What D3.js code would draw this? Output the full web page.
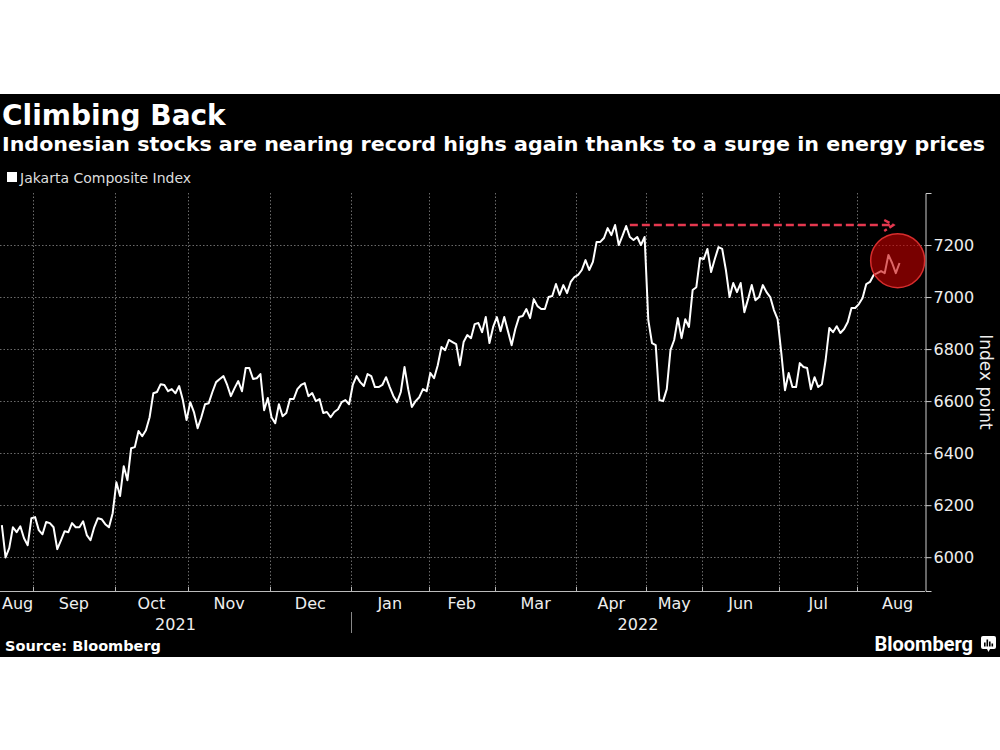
<!DOCTYPE html>
<html>
<head>
<meta charset="utf-8">
<script src="https://cdn.jsdelivr.net/npm/d3@7"></script>
<style>
  body { margin: 0; background: #fff; }
  svg { display: block; }
  text { font-family: "DejaVu Sans", Verdana, sans-serif; fill: #fff; }
</style>
</head>
<body>
<svg id="chart" width="1000" height="750"></svg>
<script>
// Jakarta Composite Index, one close per trading day (Aug 19 2021 - Aug 16 2022)
var jciValues = [
  // Aug 2021
  6123, 5999, 6035, 6115, 6096, 6119, 6073, 6046, 6150,
  // Sep
  6154, 6104, 6088, 6135, 6131, 6115, 6031, 6065, 6100, 6096, 6131, 6115, 6115, 6138, 6085, 6065, 6115, 6150, 6146, 6127, 6115, 6169,
  // Oct
  6288, 6235, 6350, 6296, 6419, 6423, 6485, 6465, 6488, 6538, 6630, 6635, 6665, 6662, 6638, 6646, 6630, 6658, 6604, 6527,
  // Nov
  6596, 6558, 6496, 6538, 6588, 6592, 6635, 6673, 6685, 6696, 6662, 6619, 6650, 6677, 6638, 6727, 6727, 6685, 6688, 6704, 6565, 6612,
  // Dec
  6538, 6515, 6588, 6542, 6554, 6608, 6608, 6646, 6662, 6669, 6619, 6631, 6600, 6608, 6554, 6558, 6538, 6558, 6569, 6596, 6604, 6588,
  // Jan 2022
  6662, 6696, 6673, 6658, 6704, 6696, 6654, 6654, 6662, 6692, 6654, 6619, 6596, 6635, 6731, 6646, 6577, 6600, 6615, 6646, 6638,
  // Feb
  6708, 6688, 6738, 6808, 6796, 6835, 6827, 6819, 6738, 6827, 6854, 6842, 6896, 6900, 6865, 6923, 6823, 6885,
  // Mar
  6923, 6869, 6923, 6869, 6815, 6877, 6923, 6927, 6954, 6919, 6992, 6965, 6954, 6954, 7000, 7004, 7050, 7008, 7046, 7015, 7058, 7077,
  // Apr
  7085, 7104, 7142, 7104, 7135, 7212, 7212, 7227, 7265, 7238, 7277, 7200, 7235, 7273, 7231, 7219, 7231, 7200, 7231,
  // May
  6911, 6823, 6815, 6604, 6600, 6646, 6796, 6835, 6919, 6842, 6915, 6885, 7027, 7038, 7150,
  // Jun
  7146, 7185, 7096, 7146, 7192, 7185, 7104, 7000, 7054, 7019, 7054, 6942, 6992, 7046, 6988, 7000, 7046, 7019, 7000, 6950, 6915,
  // Jul
  6785, 6642, 6708, 6654, 6654, 6746, 6731, 6727, 6646, 6692, 6654, 6665, 6758, 6881, 6865, 6888, 6862, 6877, 6904, 6958, 6958,
  // Aug
  6973, 6996, 7050, 7058, 7085, 7092, 7100, 7092, 7162, 7131, 7092, 7131
];

// months on the axis: first trading-day index and trading days in the month
var monthLabels = ['Aug', 'Sep', 'Oct', 'Nov', 'Dec', 'Jan', 'Feb', 'Mar', 'Apr', 'May', 'Jun', 'Jul', 'Aug'];
var monthStarts = [-11, 9, 31, 51, 73, 95, 116, 134, 156, 175, 190, 211, 232];
var monthDays   = [20, 22, 20, 22, 22, 21, 18, 22, 19, 15, 21, 21, 22];
var yearLabels = ['2021', '2022'];
var yearBreak = 95;

var yMajorTicks = [6000, 6200, 6400, 6600, 6800, 7000, 7200];
var yMinorTicks = [5900, 6100, 6300, 6500, 6700, 6900, 7100, 7300];

// annotations
var recordFrom = 170, recordTo = 241.3;
var circleIdx = 242.5, circleValue = 7140;

var svg = d3.select('#chart');
var W = 1000;

// black panel
svg.append('rect')
  .attr('x', 0).attr('y', 94).attr('width', W).attr('height', 563)
  .attr('fill', '#000');

// titles
svg.append('text').attr('x', 2).attr('y', 125)
  .style('font-size', '28px').style('font-weight', 'bold')
  .text('Climbing Back');
svg.append('text').attr('x', 2).attr('y', 151)
  .attr('textLength', 983).attr('lengthAdjust', 'spacingAndGlyphs')
  .style('font-size', '20px').style('font-weight', 'bold')
  .text('Indonesian stocks are nearing record highs again thanks to a surge in energy prices');

// legend
svg.append('rect').attr('x', 7).attr('y', 172).attr('width', 10).attr('height', 10).attr('fill', '#fff');
svg.append('text').attr('x', 20).attr('y', 183)
  .style('font-size', '14px').style('fill', '#ddd')
  .text('Jakarta Composite Index');

var plot = { left: 0, right: 925, top: 193, bottom: 591 };

var x = d3.scaleLinear().domain([-0.5, 249.9]).range([plot.left, plot.right]);
var y = d3.scaleLinear().domain([5870, 7400]).range([plot.bottom, plot.top]);

var grid = svg.append('g')
  .attr('stroke', '#6a6a6a').attr('stroke-width', 1).attr('stroke-dasharray', '1.5,2');

grid.selectAll('line.h')
  .data(yMajorTicks)
  .enter().append('line')
  .attr('class', 'h')
  .attr('x1', plot.left).attr('x2', plot.right)
  .attr('y1', function(d) { return Math.round(y(d)) + 0.5; })
  .attr('y2', function(d) { return Math.round(y(d)) + 0.5; });

var boundaries = monthStarts.filter(function(s) { return s - 0.5 > x.domain()[0]; });

grid.selectAll('line.v')
  .data(boundaries)
  .enter().append('line')
  .attr('class', 'v')
  .attr('y1', plot.top).attr('y2', plot.bottom)
  .attr('x1', function(d) { return Math.round(x(d - 0.5)) + 0.5; })
  .attr('x2', function(d) { return Math.round(x(d - 0.5)) + 0.5; });

// x axis
var xAxis = svg.append('g').attr('stroke', '#bbb').attr('stroke-width', 1);
xAxis.append('line')
  .attr('x1', plot.left).attr('x2', plot.right)
  .attr('y1', plot.bottom + 0.5).attr('y2', plot.bottom + 0.5);
xAxis.selectAll('line.tick')
  .data(boundaries)
  .enter().append('line')
  .attr('class', 'tick')
  .attr('y1', plot.bottom - 4).attr('y2', plot.bottom)
  .attr('x1', function(d) { return Math.round(x(d - 0.5)) + 0.5; })
  .attr('x2', function(d) { return Math.round(x(d - 0.5)) + 0.5; });

var monthText = svg.append('g').selectAll('text')
  .data(monthLabels)
  .enter().append('text')
  .attr('y', 609)
  .attr('text-anchor', 'middle')
  .style('font-size', '16px')
  .style('fill', '#eee')
  .text(function(d) { return d; });

monthText.attr('x', function(d, i) {
  var cx = x(monthStarts[i] - 0.5 + monthDays[i] / 2);
  var half = this.getComputedTextLength() / 2;
  return Math.max(cx, plot.left + half + 2);
});

var yearSpans = [[x.domain()[0], yearBreak - 0.5], [yearBreak - 0.5, x.domain()[1]]];
svg.append('g').selectAll('text')
  .data(yearLabels)
  .enter().append('text')
  .attr('x', function(d, i) { return (x(yearSpans[i][0]) + x(yearSpans[i][1])) / 2; })
  .attr('y', 630)
  .attr('text-anchor', 'middle')
  .style('font-size', '16px')
  .style('fill', '#eee')
  .text(function(d) { return d; });

svg.append('line')
  .attr('x1', Math.round(x(yearBreak - 0.5)) + 0.5).attr('x2', Math.round(x(yearBreak - 0.5)) + 0.5)
  .attr('y1', 612).attr('y2', 633)
  .attr('stroke', '#888').attr('stroke-width', 1);

// y axis on the right
var yAxisG = svg.append('g').attr('transform', 'translate(' + (plot.right + 0.5) + ',0)');
yAxisG.call(d3.axisRight(y).tickValues(yMinorTicks).tickSize(4).tickSizeOuter(0).tickFormat(''));
yAxisG.call(d3.axisRight(y).tickValues(yMajorTicks).tickSize(6).tickSizeOuter(6).tickPadding(2).tickFormat(d3.format('d')));
yAxisG.selectAll('path, line').attr('stroke', '#ccc');
yAxisG.selectAll('text')
  .style('font-size', '16px')
  .style('font-family', '"DejaVu Sans", Verdana, sans-serif')
  .style('fill', '#eee');

svg.append('text')
  .attr('transform', 'translate(980,' + ((plot.top + plot.bottom) / 2 - 10) + ') rotate(90)')
  .attr('text-anchor', 'middle')
  .style('font-size', '17px')
  .style('fill', '#eee')
  .text('Index point');

// series line
var line = d3.line()
  .x(function(d, i) { return x(i); })
  .y(function(d) { return y(d); });

svg.append('path')
  .datum(jciValues)
  .attr('d', line)
  .attr('fill', 'none')
  .attr('stroke', '#fff')
  .attr('stroke-width', 2)
  .attr('stroke-linejoin', 'round');

// record-high dashed arrow
var recordHigh = d3.max(jciValues);
var ay = y(recordHigh);
var arrow = svg.append('g')
  .attr('fill', 'none')
  .attr('stroke', '#e5384f')
  .attr('stroke-width', 2.5);
arrow.append('line')
  .attr('x1', x(recordFrom)).attr('x2', x(recordTo) - 2)
  .attr('y1', ay).attr('y2', ay)
  .attr('stroke-dasharray', '8,4');
arrow.append('path')
  .attr('d', 'M' + (x(recordTo) - 9) + ',' + (ay - 5) + 'L' + x(recordTo) + ',' + ay + 'L' + (x(recordTo) - 9) + ',' + (ay + 6))
  .attr('stroke-dasharray', '6,3');

// highlight circle
svg.append('circle')
  .attr('cx', x(circleIdx)).attr('cy', y(circleValue)).attr('r', 27)
  .attr('fill', 'rgb(200,0,0)').attr('fill-opacity', 0.6)
  .attr('stroke', 'rgb(215,45,45)').attr('stroke-width', 1.5);

// footer
svg.append('text').attr('x', 5).attr('y', 651)
  .style('font-size', '14.5px').style('font-weight', 'bold')
  .text('Source: Bloomberg');

svg.append('text').attr('x', 973).attr('y', 651)
  .attr('text-anchor', 'end')
  .style('font-family', 'Roboto, "Open Sans", sans-serif')
  .style('font-size', '20px').style('font-weight', 'bold')
  .text('Bloomberg');

var logo = svg.append('g').attr('transform', 'translate(981,636)');
logo.append('rect').attr('width', 15).attr('height', 13).attr('rx', 2).attr('fill', '#fff');
logo.append('path').attr('d', 'M6,13 L7.5,16 L9,13 Z').attr('fill', '#fff');
logo.selectAll('rect.bar')
  .data([4, 7, 5, 3])
  .enter().append('rect')
  .attr('class', 'bar')
  .attr('x', function(d, i) { return 3 + i * 2.5; })
  .attr('y', function(d) { return 10.5 - d; })
  .attr('width', 1.6)
  .attr('height', function(d) { return d; })
  .attr('fill', '#000');
</script>
</body>
</html>
